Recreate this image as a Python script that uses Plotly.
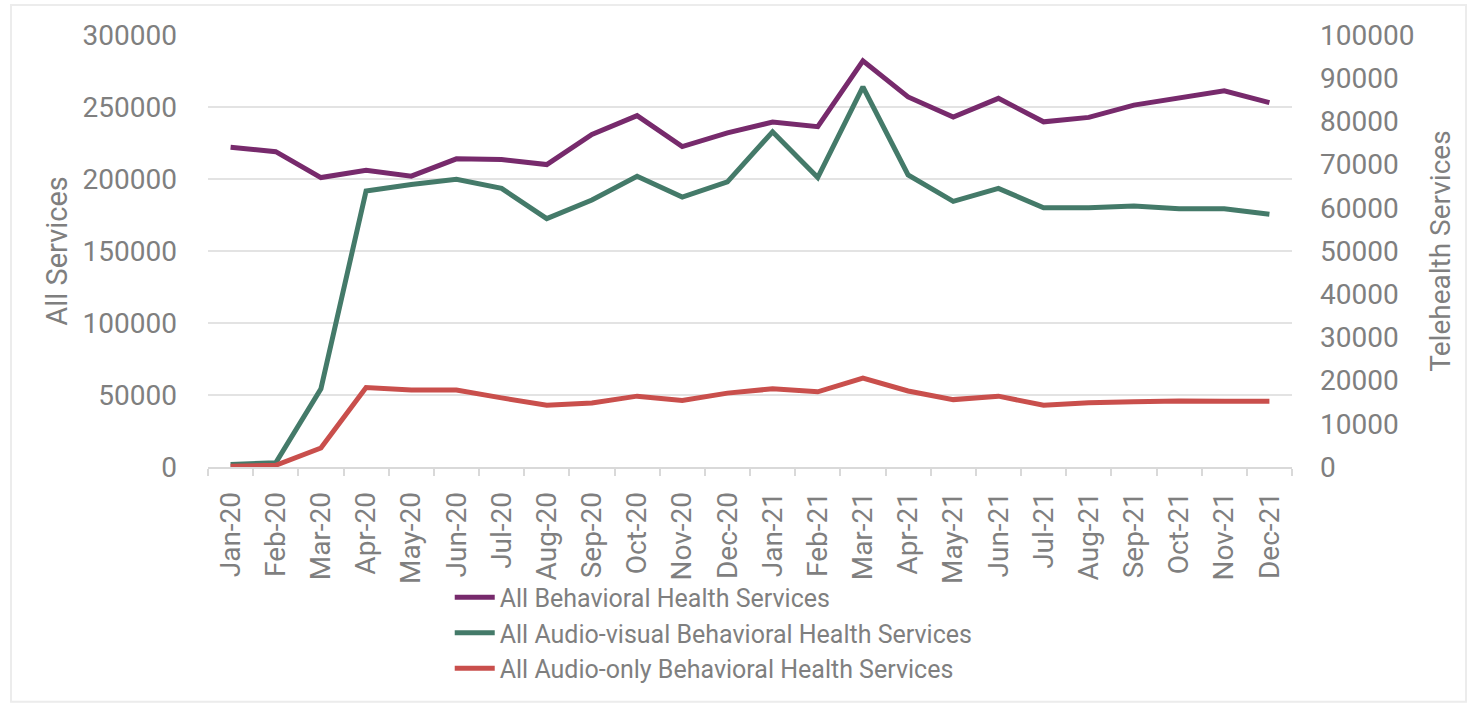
import plotly.graph_objects as go

months = ["Jan-20", "Feb-20", "Mar-20", "Apr-20", "May-20", "Jun-20", "Jul-20", "Aug-20",
          "Sep-20", "Oct-20", "Nov-20", "Dec-20", "Jan-21", "Feb-21", "Mar-21", "Apr-21",
          "May-21", "Jun-21", "Jul-21", "Aug-21", "Sep-21", "Oct-21", "Nov-21", "Dec-21"]

all_bh = [222000, 219000, 201000, 206000, 202000, 214000, 213500, 210000,
          231000, 244000, 222500, 232000, 239500, 236300, 282000, 257000,
          243000, 256000, 239700, 242800, 251300, 256700, 261300, 253000]

audio_visual = [600, 1000, 18100, 63900, 65400, 66600, 64500, 57500,
                61800, 67300, 62500, 66000, 77600, 67000, 88000, 67600,
                61500, 64500, 60000, 60000, 60400, 59800, 59800, 58500]

audio_only = [200, 400, 4400, 18400, 17800, 17800, 16000, 14300,
              14800, 16400, 15400, 17100, 18100, 17400, 20600, 17600,
              15600, 16400, 14300, 14900, 15100, 15300, 15200, 15200]

left_ticks = [0, 50000, 100000, 150000, 200000, 250000, 300000]
right_ticks = [0, 10000, 20000, 30000, 40000, 50000, 60000, 70000, 80000, 90000, 100000]

FONT = "Roboto"
GRAY = "#7f7f7f"

fig = go.Figure()
fig.add_trace(go.Scatter(x=months, y=all_bh, name="All Behavioral Health Services",
                         mode="lines", line=dict(color="#772a6c", width=5), yaxis="y"))
fig.add_trace(go.Scatter(x=months, y=audio_visual, name="All Audio-visual Behavioral Health Services",
                         mode="lines", line=dict(color="#447a69", width=5), yaxis="y2"))
fig.add_trace(go.Scatter(x=months, y=audio_only, name="All Audio-only Behavioral Health Services",
                         mode="lines", line=dict(color="#c94f4c", width=5), yaxis="y2"))

fig.update_layout(
    width=1468, height=703,
    margin=dict(l=208, r=176, t=35, b=236),
    paper_bgcolor="white", plot_bgcolor="white",
    font=dict(family=FONT, color=GRAY, size=28),
    showlegend=True,
    legend=dict(x=0.223, xanchor="left", y=-0.249, yanchor="top",
                font=dict(size=25, color=GRAY, family=FONT), tracegroupgap=0,
                bgcolor="rgba(0,0,0,0)", itemwidth=40),
    xaxis=dict(type="category", categoryorder="array", categoryarray=months,
               range=[-0.5, 23.5], tickangle=-90, tickson="boundaries",
               ticks="outside", ticklen=7, tickcolor="#d9d9d9", tickwidth=1.5,
               showline=True, linecolor="#d9d9d9", linewidth=1.5,
               ticklabelstandoff=12,
               showgrid=False, tickfont=dict(size=28, color=GRAY, family=FONT)),
    yaxis=dict(range=[0, 300000], tickvals=left_ticks, ticktext=[str(v) for v in left_ticks],
               showgrid=True, gridcolor="#e3e3e3", gridwidth=1.5, zeroline=False,
               showline=False, ticklabelstandoff=30,
               tickfont=dict(size=28, color=GRAY, family=FONT),
               title=dict(text="All Services", font=dict(size=29, color=GRAY, family=FONT), standoff=6)),
    yaxis2=dict(range=[0, 100000], tickvals=right_ticks, ticktext=[str(v) for v in right_ticks],
                overlaying="y", side="right", showgrid=False, zeroline=False,
                showline=False, ticklabelstandoff=27,
                tickfont=dict(size=28, color=GRAY, family=FONT),
                title=dict(text="Telehealth Services", font=dict(size=28, color=GRAY, family=FONT), standoff=16)),
    shapes=[dict(type="rect", xref="paper", yref="paper",
                 x0=-0.1817, x1=1.1605, y0=-0.5435, y1=1.0695,
                 line=dict(color="#ececec", width=2), fillcolor="rgba(0,0,0,0)", layer="below")],
)

fig.write_html("out.html")
